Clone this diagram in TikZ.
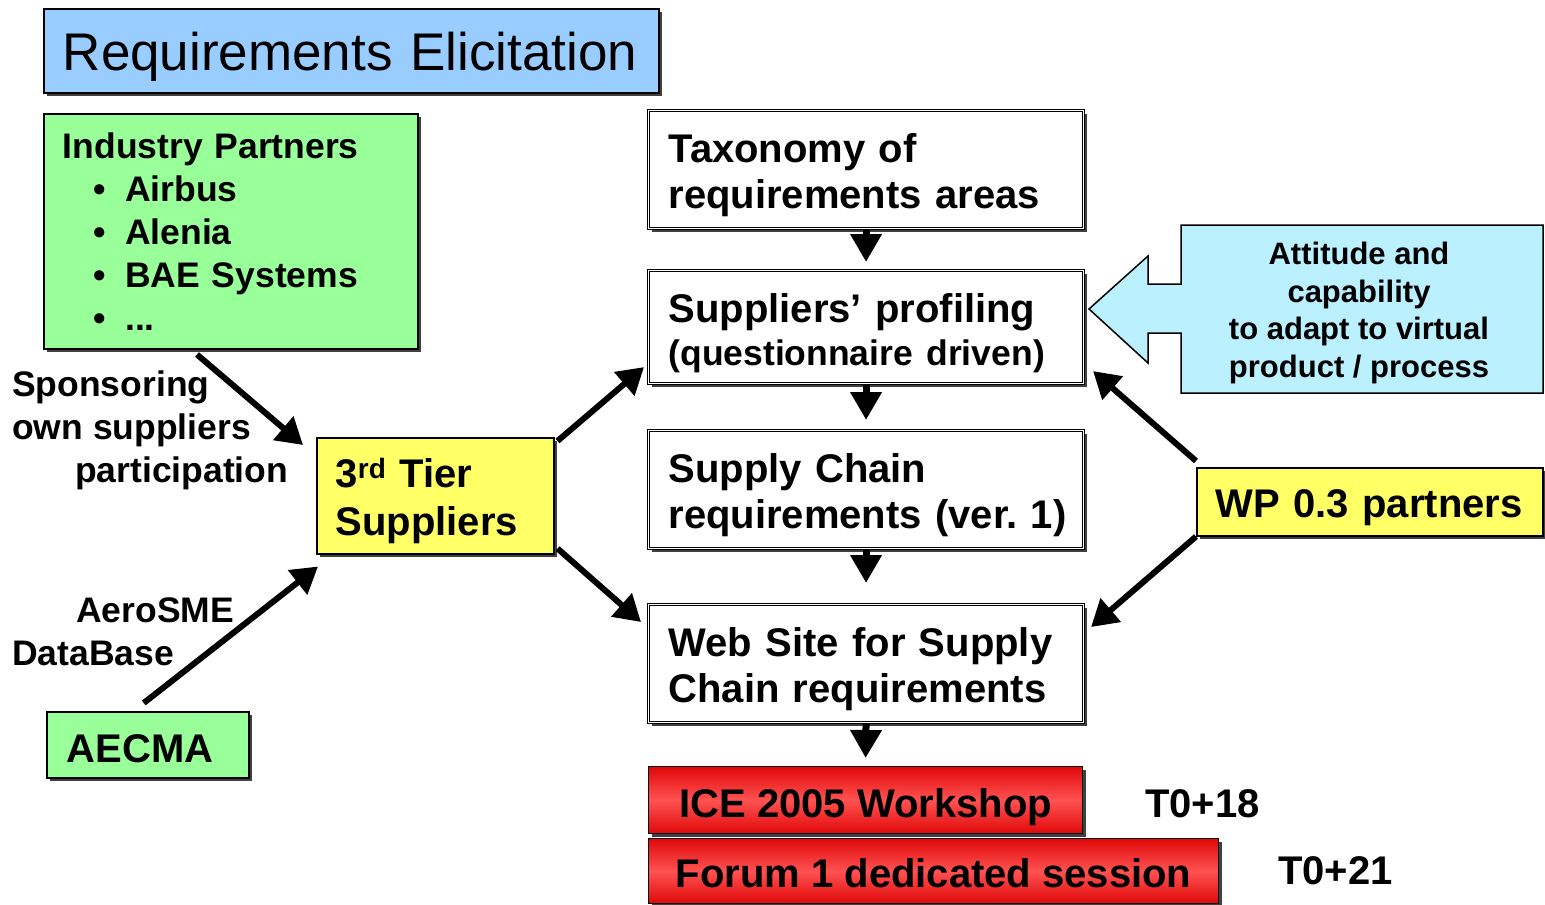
\documentclass[tikz,border=0pt]{standalone}
\usepackage{fontspec}
\setmainfont{Liberation Sans}
\usetikzlibrary{shadows,arrows.meta,calc}
\definecolor{titleblue}{HTML}{99CCFF}
\definecolor{pgreen}{HTML}{99FF99}
\definecolor{pyellow}{HTML}{FFFF66}
\definecolor{pcyan}{HTML}{BBF0FF}
\definecolor{rdark}{HTML}{E00808}
\definecolor{rlight}{HTML}{FF5252}
\newcommand{\topstrut}[1]{\rule{0pt}{#1}}
\begin{document}
\begin{tikzpicture}[x=1pt,y=-1pt,
  shad/.style={drop shadow={shadow xshift=3pt,shadow yshift=-3pt,fill=black!75,opacity=1}},
  box/.style={draw=black,line width=1.5pt,shad,anchor=north west,inner sep=0pt},
  wbox/.style={draw=black,line width=1.1pt,double=white,double distance=1.6pt,fill=white,shad,
     anchor=north west,inner ysep=0pt,inner xsep=20pt,minimum width=435pt,text width=395pt,
     minimum height=118pt,align=left,font=\bfseries\fontsize{40}{46}\selectfont},
  redbox/.style={box,line width=1.2pt,top color=rdark,bottom color=rdark,middle color=rlight,
     font=\bfseries\fontsize{40}{46}\selectfont,text depth=0pt},
  lbl/.style={inner sep=0pt,font=\bfseries\fontsize{35.5}{43}\selectfont},
  big/.style={line width=6pt,-{Triangle[length=26pt,width=30pt]}},
  down/.style={line width=7pt,-{Triangle[length=28pt,width=30pt]}}
]
\useasboundingbox (0,0) rectangle (1545,905);

% title
\node[box,fill=titleblue,minimum width=615pt,minimum height=84pt,inner xsep=19pt,
  text width=577pt,align=left,text height=40pt,text depth=0pt,
  font=\fontsize{53}{60}\selectfont] (title) at (43,8)
  {Requirements Elicitation};

% industry partners
\node[box,fill=pgreen,minimum width=374pt,minimum height=235pt,inner xsep=19pt,
  text width=336pt,align=left,font=\bfseries\fontsize{35.5}{43}\selectfont] (ip) at (43,113)
  {Industry Partners\\
   \hspace*{31pt}\textbullet\hspace*{19pt}Airbus\\
   \hspace*{31pt}\textbullet\hspace*{19pt}Alenia\\
   \hspace*{31pt}\textbullet\hspace*{19pt}BAE Systems\\
   \hspace*{31pt}\textbullet\hspace*{19pt}...};

% 3rd tier
\node[box,fill=pyellow,minimum width=237pt,minimum height=116pt,inner xsep=19pt,
  text width=199pt,align=left,font=\bfseries\fontsize{40}{48}\selectfont] (t3) at (316,437)
  {\topstrut{40pt}3\textsuperscript{rd} Tier\\Suppliers};

% AECMA
\node[box,fill=pgreen,minimum width=202pt,minimum height=66pt,inner xsep=20pt,
  text width=162pt,align=left,text height=36pt,text depth=0pt,
  font=\bfseries\fontsize{40}{46}\selectfont] (aecma) at (46,711)
  {AECMA};

% labels
\node[lbl,anchor=north west,align=left] (spons) at (12,371)
  {Sponsoring\\own suppliers\\\hspace*{63pt}participation};
\node[lbl,anchor=north west,align=left] (aero) at (12,598)
  {\hspace*{64pt}AeroSME\\DataBase};

% white boxes
\node[wbox] (tax) at (648,110) {\topstrut{41pt}Taxonomy of\\requirements areas};
\node[wbox,minimum height=113pt] (prof) at (648,270)
  {\topstrut{41pt}Suppliers’ profiling\\[-3pt]{\fontsize{35.5}{43}\selectfont(questionnaire driven)}};
\node[wbox] (sc) at (648,430) {\topstrut{41pt}Supply Chain\\\mbox{requirements (ver.~1)}};
\node[wbox] (web) at (648,604) {\topstrut{41pt}Web Site for Supply\\Chain requirements};

% red boxes
\node[redbox,minimum width=434pt,minimum height=67pt,text height=35pt] (ice) at (648,766) {ICE 2005 Workshop};
\node[redbox,minimum width=570pt,minimum height=65pt,text height=33pt] (forum) at (648,838) {Forum 1 dedicated session};
\node[anchor=base west,inner sep=0pt,font=\bfseries\fontsize{40}{46}\selectfont] (t18) at (1145,817) {T0+18};
\node[anchor=base west,inner sep=0pt,font=\bfseries\fontsize{40}{46}\selectfont] (t21) at (1278,884) {T0+21};

% callout
\draw[line width=1.5pt,fill=pcyan] (1181,225) -- (1543,225) -- (1543,393) -- (1181,393) -- (1181,333)
  -- (1148,333) -- (1148,363) -- (1089,309) -- (1148,256) -- (1148,284) -- (1181,284) -- cycle;
\node[inner sep=0pt,align=center,font=\bfseries\fontsize{31}{37.5}\selectfont] (att) at (1359,313)
  {Attitude and\\capability\\to adapt to virtual\\product / process};

% WP
\node[box,fill=pyellow,minimum width=346pt,minimum height=68pt,inner xsep=19pt,
  text width=308pt,align=left,text height=32pt,text depth=0pt,
  font=\bfseries\fontsize{40}{46}\selectfont] (wp) at (1196,467)
  {WP 0.3 partners};

% down arrows
\draw[down] (tax.south) -- ([yshift=8pt]prof.north);
\draw[down] (prof.south) -- ([yshift=10pt]sc.north);
\draw[down] (sc.south) -- ([yshift=21pt]web.north);
\draw[down] (web.south) -- ([yshift=8pt]ice.north);

% diagonal arrows
\draw[big] ([xshift=154pt,yshift=-5pt]ip.south west) -- ([xshift=-13pt,yshift=-8pt]t3.north west);
\draw[big] ([xshift=-4pt,yshift=8pt]aecma.north) -- ([xshift=2pt,yshift=-12pt]t3.south west);
\draw[big] ([xshift=3pt,yshift=-4pt]t3.north east) -- ([xshift=-4pt,yshift=17pt]prof.south west);
\draw[big] ([xshift=3pt,yshift=6pt]t3.south east) -- ([xshift=-7pt,yshift=-18pt]web.north west);
\draw[big] ([yshift=6pt]wp.north west) -- ([xshift=9pt,yshift=13pt]prof.south east);
\draw[big] (wp.south west) -- ([xshift=7pt,yshift=-23pt]web.north east);
\end{tikzpicture}
\end{document}
